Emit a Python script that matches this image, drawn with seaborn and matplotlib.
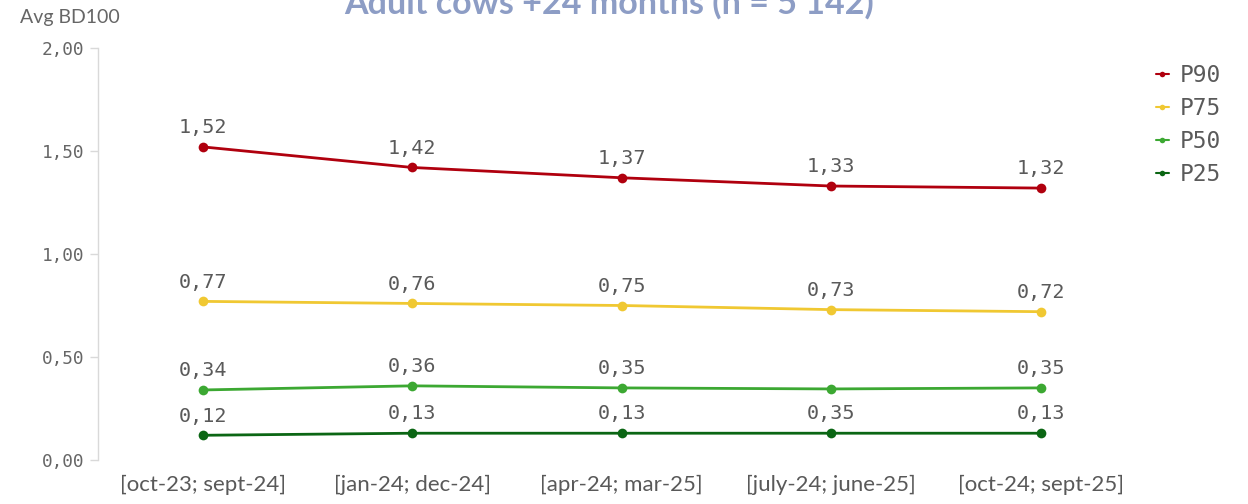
import matplotlib
matplotlib.use("Agg")
import matplotlib.pyplot as plt
from matplotlib.lines import Line2D
import seaborn as sns
import pandas as pd

periods = ["[oct-23; sept-24]", "[jan-24; dec-24]", "[apr-24; mar-25]",
           "[july-24; june-25]", "[oct-24; sept-25]"]
series_names = ["P90", "P75", "P50", "P25"]
p90 = [1.52, 1.42, 1.37, 1.33, 1.32]
p75 = [0.77, 0.76, 0.75, 0.73, 0.72]
p50 = [0.34, 0.36, 0.35, 0.345, 0.35]
p25 = [0.12, 0.13, 0.13, 0.13, 0.13]
# data labels as displayed (Qlik hid the P50 July label and showed "0,35" above P25)
labels_p90 = ["1,52", "1,42", "1,37", "1,33", "1,32"]
labels_p75 = ["0,77", "0,76", "0,75", "0,73", "0,72"]
labels_p50 = ["0,34", "0,36", "0,35", "", "0,35"]
labels_p25 = ["0,12", "0,13", "0,13", "0,35", "0,13"]
yticks = [0.0, 0.5, 1.0, 1.5, 2.0]
ytick_labels = ["0,00", "0,50", "1,00", "1,50", "2,00"]
colors = ["#b0000e", "#f0c832", "#3ca832", "#0b6614"]

values = [p90, p75, p50, p25]
labels = [labels_p90, labels_p75, labels_p50, labels_p25]
rows = []
for name, vals in zip(series_names, values):
    for i, v in enumerate(vals):
        rows.append({"period": i, "series": name, "value": v})
df = pd.DataFrame(rows)

sns.set_style("white")
plt.rcParams["font.family"] = ["DejaVu Sans"]

fig = plt.figure(figsize=(12.48, 5.04), dpi=100)
ax = fig.add_axes([98 / 1248, 44 / 504, 1047.5 / 1248, 412 / 504])

palette = dict(zip(series_names, colors))
sns.lineplot(data=df, x="period", y="value", hue="series", palette=palette,
             marker="o", markersize=7, markeredgewidth=0, linewidth=2,
             legend=False, ax=ax)

mono = "DejaVu Sans Mono"
label_color = "#5a5a5a"
for vals, labs in zip(values, labels):
    for i, (v, t) in enumerate(zip(vals, labs)):
        if t:
            ax.annotate(t, (i, v), xytext=(0, 7), textcoords="offset points",
                        ha="center", va="bottom", fontsize=14.5,
                        family=mono, color=label_color)

ax.set_xlim(-0.5, 4.5)
ax.set_ylim(0, 2.0)
ax.set_yticks(yticks)
ax.set_yticklabels(ytick_labels, family=mono, fontsize=12.8, color="#666666")
ax.set_xticks(range(len(periods)))
ax.set_xticklabels(periods, family="Lato", fontsize=16, color="#595959")
ax.tick_params(axis="x", length=0, pad=11)
ax.tick_params(axis="y", length=6, width=1, color="#d9d9d9", pad=4, left=True)
ax.set_xlabel("")
ax.set_ylabel("")
for s in ["top", "right", "bottom"]:
    ax.spines[s].set_visible(False)
ax.spines["left"].set_color("#d9d9d9")
ax.spines["left"].set_linewidth(1)

fig.text(20 / 1248, 1 - 17 / 504, "Avg BD100", family="Lato", fontsize=14,
         color="#666666", ha="left", va="center")
fig.text(609 / 1248, 1 - 14 / 504, "Adult cows +24 months (n = 5 142)",
         family="Lato", fontweight="bold", fontsize=24.5, color="#8d9dc5",
         ha="center", va="baseline")

handles = [Line2D([0], [0], color=c, marker="o", markersize=4, linewidth=1.5,
                  markeredgewidth=0) for c in colors]
leg = fig.legend(handles, series_names, loc="upper left",
                 bbox_to_anchor=(1147 / 1248, 1 - 55 / 504), frameon=False,
                 prop={"family": mono, "size": 16.5}, labelcolor="#5a5a5a",
                 handlelength=0.55, handletextpad=0.5, labelspacing=0.43,
                 borderaxespad=0)

fig.savefig("out.png", dpi=100)
